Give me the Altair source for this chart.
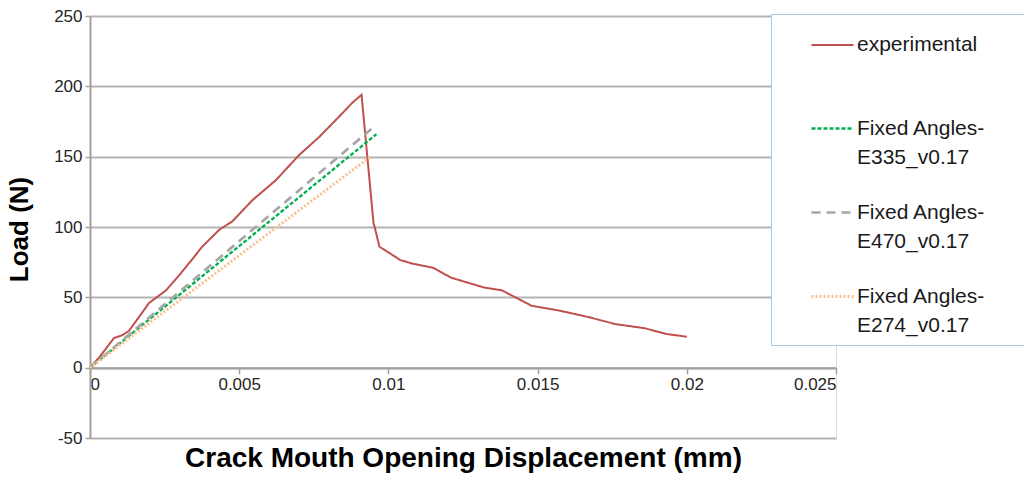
import altair as alt
import pandas as pd

# Experimental load vs crack mouth opening displacement
exp_cmod = [0, 0.0003, 0.0008, 0.00107, 0.0013, 0.00164, 0.00198, 0.00255, 0.0030,
            0.0035, 0.00376, 0.00433, 0.00477, 0.00544, 0.00624, 0.0070, 0.00768,
            0.00835, 0.0088, 0.0091, 0.0095, 0.00955, 0.0097, 0.00985, 0.0104,
            0.0108, 0.0115, 0.0121, 0.0132, 0.0138, 0.0148, 0.0157, 0.0167,
            0.0176, 0.0186, 0.0193, 0.0200]
exp_load = [0, 7, 21, 23, 26, 36, 46, 55, 66,
            79, 86, 98, 104, 119, 133.5, 151, 164,
            178.5, 188.5, 194, 103, 99, 86, 84, 76.5,
            74, 71, 64, 57, 55, 44, 40.7, 36,
            31, 28, 24, 22]

# Fixed-angle model predictions (linear pre-peak response)
e335_cmod = [0, 0.0096]
e335_load = [0, 166]
e470_cmod = [0, 0.0095]
e470_load = [0, 171]
e274_cmod = [0, 0.0094]
e274_load = [0, 150]

series = ["experimental", "Fixed Angles-E335_v0.17",
          "Fixed Angles-E470_v0.17", "Fixed Angles-E274_v0.17"]
colors = ["#c0504d", "#00b050", "#a6a6a6", "#fac090"]
dashes = [[1, 0], [4, 2], [9, 6], [2, 2]]
widths = [2, 3, 2.5, 1.5]

x_ticks = [0, 0.005, 0.01, 0.015, 0.02, 0.025]
y_ticks = [-50, 0, 50, 100, 150, 200, 250]

frames = []
for name, xs, ys in zip(series,
                        [exp_cmod, e335_cmod, e470_cmod, e274_cmod],
                        [exp_load, e335_load, e470_load, e274_load]):
    frames.append(pd.DataFrame({"series": name, "cmod": xs, "load": ys,
                                "idx": range(len(xs))}))
data = pd.concat(frames, ignore_index=True)

FONT = "Liberation Sans"
# trailing blank run widens the legend frame so it runs past the right edge
PAD = "\u00a0" * 4 + "\u2800"

legend = alt.Legend(
    title=None,
    orient="none",
    legendX=681,
    legendY=-2,
    fillColor="white",
    strokeColor="#a9c8ea",
    padding=9,
    symbolType="stroke",
    symbolSize=1764,
    symbolOffset=30,
    labelOffset=2,
    labelFont=FONT,
    labelFontSize=21,
    labelColor="#1a1a1a",
    labelLimit=600,
    rowPadding=22,
    labelExpr=(
        "indexof(datum.label, '-') > 0 ? "
        "[slice(datum.label, 0, indexof(datum.label, '-') + 1) + '" + PAD + "', "
        "slice(datum.label, indexof(datum.label, '-') + 1)] : [datum.label + '" + PAD + "', '']"
    ),
)

x_axis = alt.Axis(
    values=x_ticks,
    format="~g",
    offset=-70.33,
    grid=False,
    domainColor="#a0a0a0",
    domainWidth=2,
    tickColor="#a0a0a0",
    tickWidth=1.5,
    tickSize=6,
    labelPadding=3,
    labelFont=FONT,
    labelFontSize=17,
    labelColor="#262626",
    title="Crack Mouth Opening Displacement (mm)",
    titleFont=FONT,
    titleFontSize=28,
    titleFontWeight="bold",
    titleColor="black",
    titleY=91,
    titleBaseline="middle",
)

y_axis = alt.Axis(
    values=y_ticks,
    labelExpr="'' + datum.value",
    grid=True,
    gridColor="#b4b4b4",
    gridWidth=2,
    domainColor="#a0a0a0",
    domainWidth=2,
    tickColor="#a0a0a0",
    tickWidth=1.5,
    tickSize=5,
    labelPadding=3,
    labelFont=FONT,
    labelFontSize=17,
    labelColor="#262626",
    title="Load (N)",
    titleFont=FONT,
    titleFontSize=26,
    titleFontWeight="bold",
    titleColor="black",
    titleX=-71,
    titleY=213,
    titleAlign="center",
    titleBaseline="middle",
    titleAngle=270,
)

chart = (
    alt.Chart(data)
    .mark_line(strokeCap="butt", strokeJoin="miter")
    .encode(
        x=alt.X("cmod:Q", scale=alt.Scale(domain=[0, 0.025], nice=False, zero=False), axis=x_axis),
        y=alt.Y("load:Q", scale=alt.Scale(domain=[-50, 250], nice=False), axis=y_axis),
        color=alt.Color("series:N", scale=alt.Scale(domain=series, range=colors), legend=legend),
        strokeDash=alt.StrokeDash("series:N", scale=alt.Scale(domain=series, range=dashes), legend=legend),
        strokeWidth=alt.StrokeWidth("series:N", scale=alt.Scale(domain=series, range=widths), legend=legend),
        order="idx:Q",
    )
    .properties(
        width=746,
        height=422,
        autosize=alt.AutoSizeParams(type="none"),
        padding={"left": 90, "top": 16, "right": 188, "bottom": 40},
        background="white",
    )
    .configure_view(stroke=None)
    .configure_legend(strokeWidth=1.5)
    .configure(style={"guide-label": {"lineHeight": 29}})
)

chart.save("out.html", embed_options={"renderer": "svg", "actions": False})
